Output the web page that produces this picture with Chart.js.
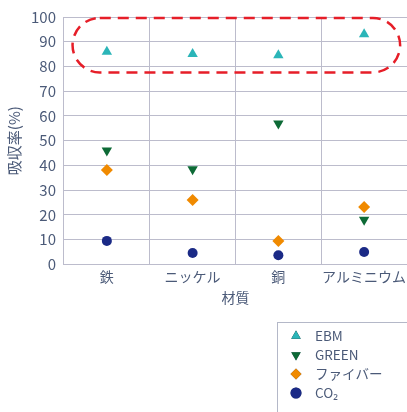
<!DOCTYPE html>
<html>
<head>
<meta charset="utf-8">
<script src="https://cdn.jsdelivr.net/npm/chart.js@4.4.0/dist/chart.umd.min.js"></script>
<style>
  body { margin: 0; background: #fff; }
  #wrap { width: 407px; height: 412px; position: relative; }
</style>
</head>
<body>
<div id="wrap"><canvas id="absChart"></canvas></div>
<script>
// materials on the x axis
const materials = ['鉄', 'ニッケル', '銅', 'アルミニウム'];
// absorption rate (%) per series
const ebm = [86, 85, 84.5, 93];
const green = [46, 38.5, 57, 18];
const fiber = [38.2, 26, 9.5, 23.2];
const co2 = [9.5, 4.6, 3.7, 5];
const yTicks = [0, 10, 20, 30, 40, 50, 60, 70, 80, 90, 100];

const textColor = '#4b5a78';
const gridColor = '#bcbccc';
const font = '"Noto Sans CJK JP", "Noto Sans", sans-serif';

// red dashed ring around the EBM points
const ringPlugin = {
  id: 'ring',
  afterDatasetsDraw(chart) {
    const ctx = chart.ctx;
    const x = chart.scales.x, y = chart.scales.y;
    const left = x.getPixelForValue(-0.4);
    const right = x.getPixelForValue(3.42);
    const top = y.getPixelForValue(99.6);
    const bottom = y.getPixelForValue(77.6);
    const r = (bottom - top) / 2;
    ctx.save();
    ctx.strokeStyle = '#e61e28';
    ctx.lineWidth = 2.5;
    ctx.setLineDash([11, 7]);
    ctx.beginPath();
    ctx.roundRect(left, top, right - left, bottom - top, r);
    ctx.stroke();
    ctx.restore();
  }
};

// boxed legend bottom right
const legendBox = {
  id: 'legendBox',
  afterDraw(chart) {
    const ctx = chart.ctx;
    ctx.save();
    ctx.strokeStyle = '#b4b8c8';
    ctx.lineWidth = 1;
    ctx.strokeRect(277.5, 322.5, 140, 100);
    ctx.font = '13.5px ' + font;
    ctx.textBaseline = 'middle';
    chart.data.datasets.forEach(function(ds, i) {
      const cy = 336 + i * 19;
      Chart.helpers.drawPoint(ctx, {
        pointStyle: ds.pointStyle,
        radius: 5.5,
        rotation: ds.pointRotation || 0,
        borderWidth: 0
      }, 296, cy);
      ctx.fillStyle = ds.backgroundColor;
      ctx.fill();
      ctx.fillStyle = textColor;
      ctx.fillText(ds.label, 315, cy);
    });
    ctx.restore();
  }
};

function series(label, data, color, style, rot) {
  return {
    label: label,
    data: data,
    showLine: false,
    backgroundColor: color,
    borderColor: color,
    borderWidth: 0,
    pointStyle: style,
    pointRotation: rot || 0,
    pointRadius: style === 'circle' ? 5 : 6,
    pointHoverRadius: 6
  };
}

new Chart('absChart', {
  type: 'line',
  data: {
    labels: materials,
    datasets: [
      series('EBM', ebm, '#2bb5b8', 'triangle'),
      series('GREEN', green, '#0d6a36', 'triangle', 180),
      series('ファイバー', fiber, '#f08a00', 'rectRot'),
      series('CO₂', co2, '#1b2a86', 'circle')
    ]
  },
  plugins: [ringPlugin, legendBox],
  options: {
    responsive: true,
    maintainAspectRatio: false,
    animation: false,
    layout: { autoPadding: false, padding: { top: 9, bottom: 102, left: 1, right: 0 } },
    plugins: { legend: { display: false }, tooltip: { enabled: false } },
    scales: {
      x: {
        offset: true,
        grid: { offset: true, color: gridColor, drawTicks: false },
        border: { color: gridColor },
        ticks: { color: textColor, font: { family: font, size: 14 }, maxRotation: 0, autoSkip: false, padding: 4 },
        title: { display: true, text: '材質', color: textColor, font: { family: font, size: 14 }, padding: { top: 0 } },
        // let the last label run off the edge like the original
        afterFit: function(axis) { axis.paddingRight = 0; }
      },
      y: {
        min: 0,
        max: 100,
        afterBuildTicks: function(axis) { axis.ticks = yTicks.map(v => ({ value: v })); },
        grid: { color: gridColor, drawTicks: false },
        border: { color: gridColor },
        ticks: { color: textColor, font: { family: font, size: 15 }, padding: 8 },
        title: { display: true, text: '吸収率(%)', color: textColor, font: { family: font, size: 15 }, padding: { bottom: 0 } }
      }
    }
  }
});
</script>
</body>
</html>
